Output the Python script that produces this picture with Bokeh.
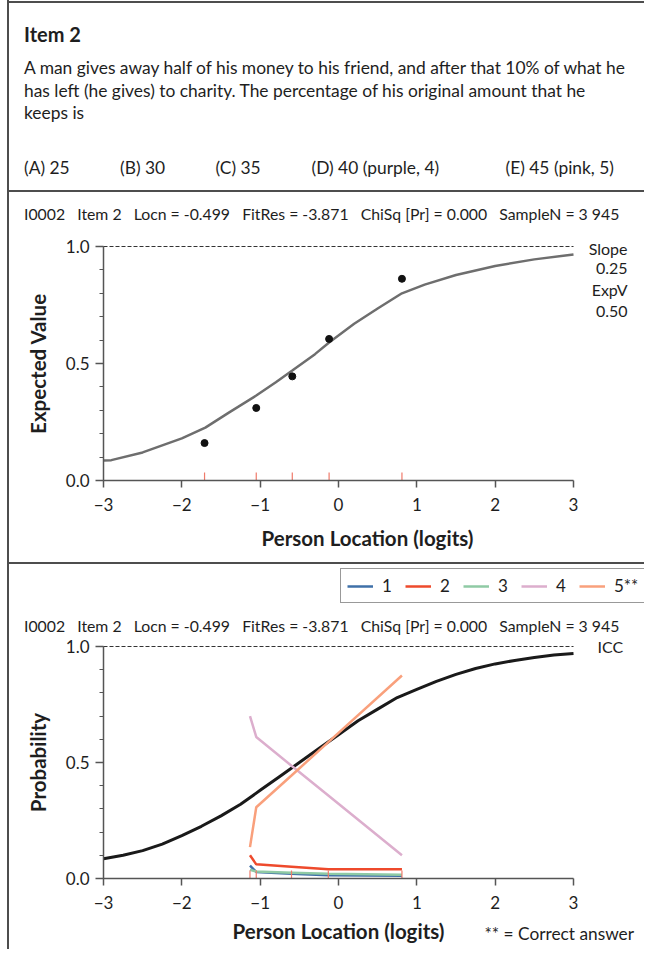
from bokeh.plotting import figure
from bokeh.models import (Range1d, Label, Legend, LegendItem, SingleIntervalTicker,
                          NumeralTickFormatter, Spacer, LinearAxis)
from bokeh.layouts import column, row
from bokeh.embed import file_html
from bokeh.resources import INLINE

FONT = "Lato"
TXT = "#1e1e1e"
AXC = "#555555"

# ---------------- data ----------------
item_title = "Item 2"
question_lines = [
    "A man gives away half of his money to his friend, and after that 10% of what he",
    "has left (he gives) to charity. The percentage of his original amount that he",
    "keeps is",
]
options = ["(A) 25", "(B) 30", "(C) 35", "(D) 40 (purple, 4)", "(E) 45 (pink, 5)"]
header_parts = ["I0002", "Item 2", "Locn = -0.499", "FitRes = -3.871",
                "ChiSq [Pr] = 0.000", "SampleN = 3 945"]
side_labels = ["Slope", "0.25", "ExpV", "0.50"]

x_ticks = [-3, -2, -1, 0, 1, 2, 3]
x_tick_labels = ["\u22123", "\u22122", "\u22121", "0", "1", "2", "3"]

# Expected value curve (panel 2)
ev_x = [-3.0, -2.9, -2.5, -2.0, -1.7, -1.4, -1.05, -0.8, -0.59, -0.3, -0.12,
        0.2, 0.5, 0.81, 1.1, 1.5, 2.0, 2.5, 3.0]
ev_y = [0.085, 0.087, 0.12, 0.18, 0.226, 0.29, 0.363, 0.42, 0.47, 0.54, 0.59,
        0.67, 0.735, 0.80, 0.837, 0.878, 0.917, 0.945, 0.966]
obs_x = [-1.71, -1.05, -0.59, -0.12, 0.81]
obs_y = [0.16, 0.31, 0.445, 0.605, 0.862]

# ICC (panel 3)
icc_x = [-3.0, -2.75, -2.5, -2.25, -2.0, -1.75, -1.5, -1.25, -1.0, -0.75, -0.5,
         -0.25, 0.0, 0.25, 0.5, 0.75, 1.0, 1.25, 1.5, 1.75, 2.0, 2.25, 2.5, 2.75, 3.0]
icc_y = [0.085, 0.10, 0.12, 0.148, 0.185, 0.225, 0.27, 0.32, 0.38, 0.44, 0.50,
         0.56, 0.62, 0.68, 0.73, 0.78, 0.815, 0.85, 0.88, 0.905, 0.925, 0.94, 0.953,
         0.963, 0.97]

class_x = [-1.13, -1.05, -0.6, -0.13, 0.81]
opt_names = ["1", "2", "3", "4", "5**"]
opt_1 = [0.056, 0.028, 0.02, 0.014, 0.012]
opt_2 = [0.10, 0.061, 0.051, 0.04, 0.04]
opt_3 = [0.038, 0.03, 0.025, 0.02, 0.016]
opt_4 = [0.70, 0.61, 0.486, 0.358, 0.10]
opt_5 = [0.135, 0.307, 0.444, 0.588, 0.875]
opt_colors = ["#3f70a8", "#ee4a2c", "#8fcaa4", "#dcaecd", "#f9a07c"]

# ---------------- page geometry (pixels) ----------------
LEFT = 9            # left edge of content (after border line)
CW = 635            # content width
XPX0, XPX1 = 103, 573   # pixel columns of x = -3 and x = 3
XS = (XPX1 - XPX0) / 6.0
RUG_PX = 8
GAP = "\u00a0\u00a0\u00a0"
HEADER = GAP.join(header_parts)


def x_of(px):
    return -3 + (px - XPX0) / XS


def make_range_x():
    return Range1d(x_of(LEFT), x_of(LEFT + CW))


class Panel:
    def __init__(self, top, height, y0px, y1px):
        self.top, self.height, self.y0px = top, height, y0px
        self.s = float(y0px - y1px)

    def y_of(self, py):
        return (self.y0px - py) / self.s

    def yrange(self):
        return Range1d(self.y_of(self.top + self.height), self.y_of(self.top))


def lab(p, text, x, y, align="left", size="16px", bold=False):
    p.add_layout(Label(x=x, y=y, text=text, text_font=FONT, text_font_size=size,
                       text_font_style="bold" if bold else "normal",
                       text_color=TXT, text_align=align, text_baseline="middle"))


def add_axes(p, ylabel, xlabel=None):
    xa = LinearAxis(fixed_location=0, bounds=(-3, 3),
                    ticker=SingleIntervalTicker(interval=1, num_minor_ticks=0))
    ya = LinearAxis(fixed_location=-3, bounds=(0, 1),
                    ticker=SingleIntervalTicker(interval=0.5, num_minor_ticks=5),
                    formatter=NumeralTickFormatter(format="0.0"))
    for ax in (xa, ya):
        ax.axis_line_color = AXC
        ax.axis_line_width = 1.5
        ax.major_tick_line_color = AXC
        ax.major_tick_line_width = 1.5
        ax.minor_tick_line_color = AXC
        ax.minor_tick_line_width = 1.2
        ax.major_tick_in = 0
        ax.minor_tick_in = 0
        ax.major_label_text_font = FONT
        ax.major_label_text_font_size = "17px"
        ax.major_label_text_color = TXT
        ax.axis_label_text_font = FONT
        ax.axis_label_text_font_size = "20.5px"
        ax.axis_label_text_font_style = "bold"
        ax.axis_label_text_color = TXT
    xa.major_label_overrides = dict(zip(x_ticks, x_tick_labels))
    xa.major_tick_out = 7
    xa.major_label_standoff = 10
    ya.major_tick_out = 8
    ya.minor_tick_out = 4
    ya.major_label_standoff = 6
    ya.axis_label = ylabel
    ya.axis_label_standoff = 13
    if xlabel:
        xa.axis_label = xlabel
        xa.axis_label_standoff = 7
    p.add_layout(xa, "below")
    p.add_layout(ya, "left")


def base_fig(height, xr, yr):
    p = figure(width=CW, height=height, x_range=xr, y_range=yr,
               output_backend="svg", toolbar_location=None, min_border=0,
               x_axis_type=None, y_axis_type=None)
    p.outline_line_color = None
    p.grid.visible = False
    return p


# ---------------- panel 1: question text ----------------
P1_TOP, P1_H = 3, 187
p1 = base_fig(P1_H, Range1d(LEFT, LEFT + CW), Range1d(P1_TOP + P1_H, P1_TOP))
lab(p1, item_title, 23.5, 33, size="20px", bold=True)
for txt, yy in zip(question_lines, [67, 89.5, 112]):
    lab(p1, txt, 23.5, yy, size="17.4px")
for txt, xx in zip(options, [23.5, 119.5, 215, 311, 505]):
    lab(p1, txt, xx, 167, size="17.4px")

# ---------------- panel 2: expected value ----------------
g2 = Panel(192, 370, 480, 246)
p2 = base_fig(g2.height, make_range_x(), g2.yrange())
add_axes(p2, "Expected Value")
p2.segment(x0=x_ticks[0], y0=1, x1=x_ticks[-1], y1=1, line_color="#333333",
           line_width=1, line_dash="4 2")
p2.line(ev_x, ev_y, line_color="#6e6e6e", line_width=2.5)
p2.scatter(obs_x, obs_y, size=7, color="#111111")
p2.segment(x0=obs_x, y0=[0] * len(obs_x), x1=obs_x, y1=[RUG_PX / g2.s] * len(obs_x),
           line_color="#f07a6a", line_width=1.2)
lab(p2, HEADER, x_of(23.5), g2.y_of(213), size="15.8px")
for txt, yy in zip(side_labels, [248, 268, 289, 311]):
    lab(p2, txt, x_of(627), g2.y_of(yy), align="right")
lab(p2, "Person Location (logits)", x_of(367), g2.y_of(537), align="center",
    size="20.5px", bold=True)

# ---------------- panel 3: probability ----------------
g3 = Panel(564, 385, 878, 646)
p3 = base_fig(g3.height, make_range_x(), g3.yrange())
add_axes(p3, "Probability", "Person Location (logits)")
p3.segment(x0=x_ticks[0], y0=1, x1=x_ticks[-1], y1=1, line_color="#333333",
           line_width=1, line_dash="4 2")
p3.line(icc_x, icc_y, line_color="#1a1a1a", line_width=3)
items = []
for name, ys, colr in zip(opt_names, [opt_1, opt_2, opt_3, opt_4, opt_5], opt_colors):
    r = p3.line(class_x, ys, line_color=colr, line_width=2.5)
    items.append(LegendItem(label=name, renderers=[r]))
p3.segment(x0=class_x, y0=[0] * len(class_x), x1=class_x,
           y1=[RUG_PX / g3.s] * len(class_x), line_color="#f07a6a", line_width=1.2)
legend = Legend(items=items, orientation="horizontal",
                location=(340 - LEFT, g3.top + g3.height - 603),
                glyph_width=26, glyph_height=20, label_standoff=9, label_width=20,
                spacing=3, padding=6, margin=0,
                label_text_font=FONT, label_text_font_size="17px", label_text_color=TXT,
                border_line_color="#333333", border_line_width=1,
                background_fill_color="white", background_fill_alpha=1)
p3.add_layout(legend)
lab(p3, HEADER, x_of(23.5), g3.y_of(625), size="15.8px")
lab(p3, "ICC", x_of(597), g3.y_of(646))
lab(p3, "** = Correct answer", x_of(484), g3.y_of(933), size="17.3px")

# ---------------- layout with rule lines ----------------
LINE = {"background-color": "#4d4d4d"}
col = column(Spacer(width=CW, height=1), Spacer(width=CW, height=2, styles=LINE), p1,
             Spacer(width=CW, height=2, styles=LINE), p2,
             Spacer(width=CW, height=2, styles=LINE), p3)
layout = row(Spacer(width=7, height=949), Spacer(width=2, height=949, styles=LINE), col)

open("out.html", "w").write(file_html(layout, INLINE))
